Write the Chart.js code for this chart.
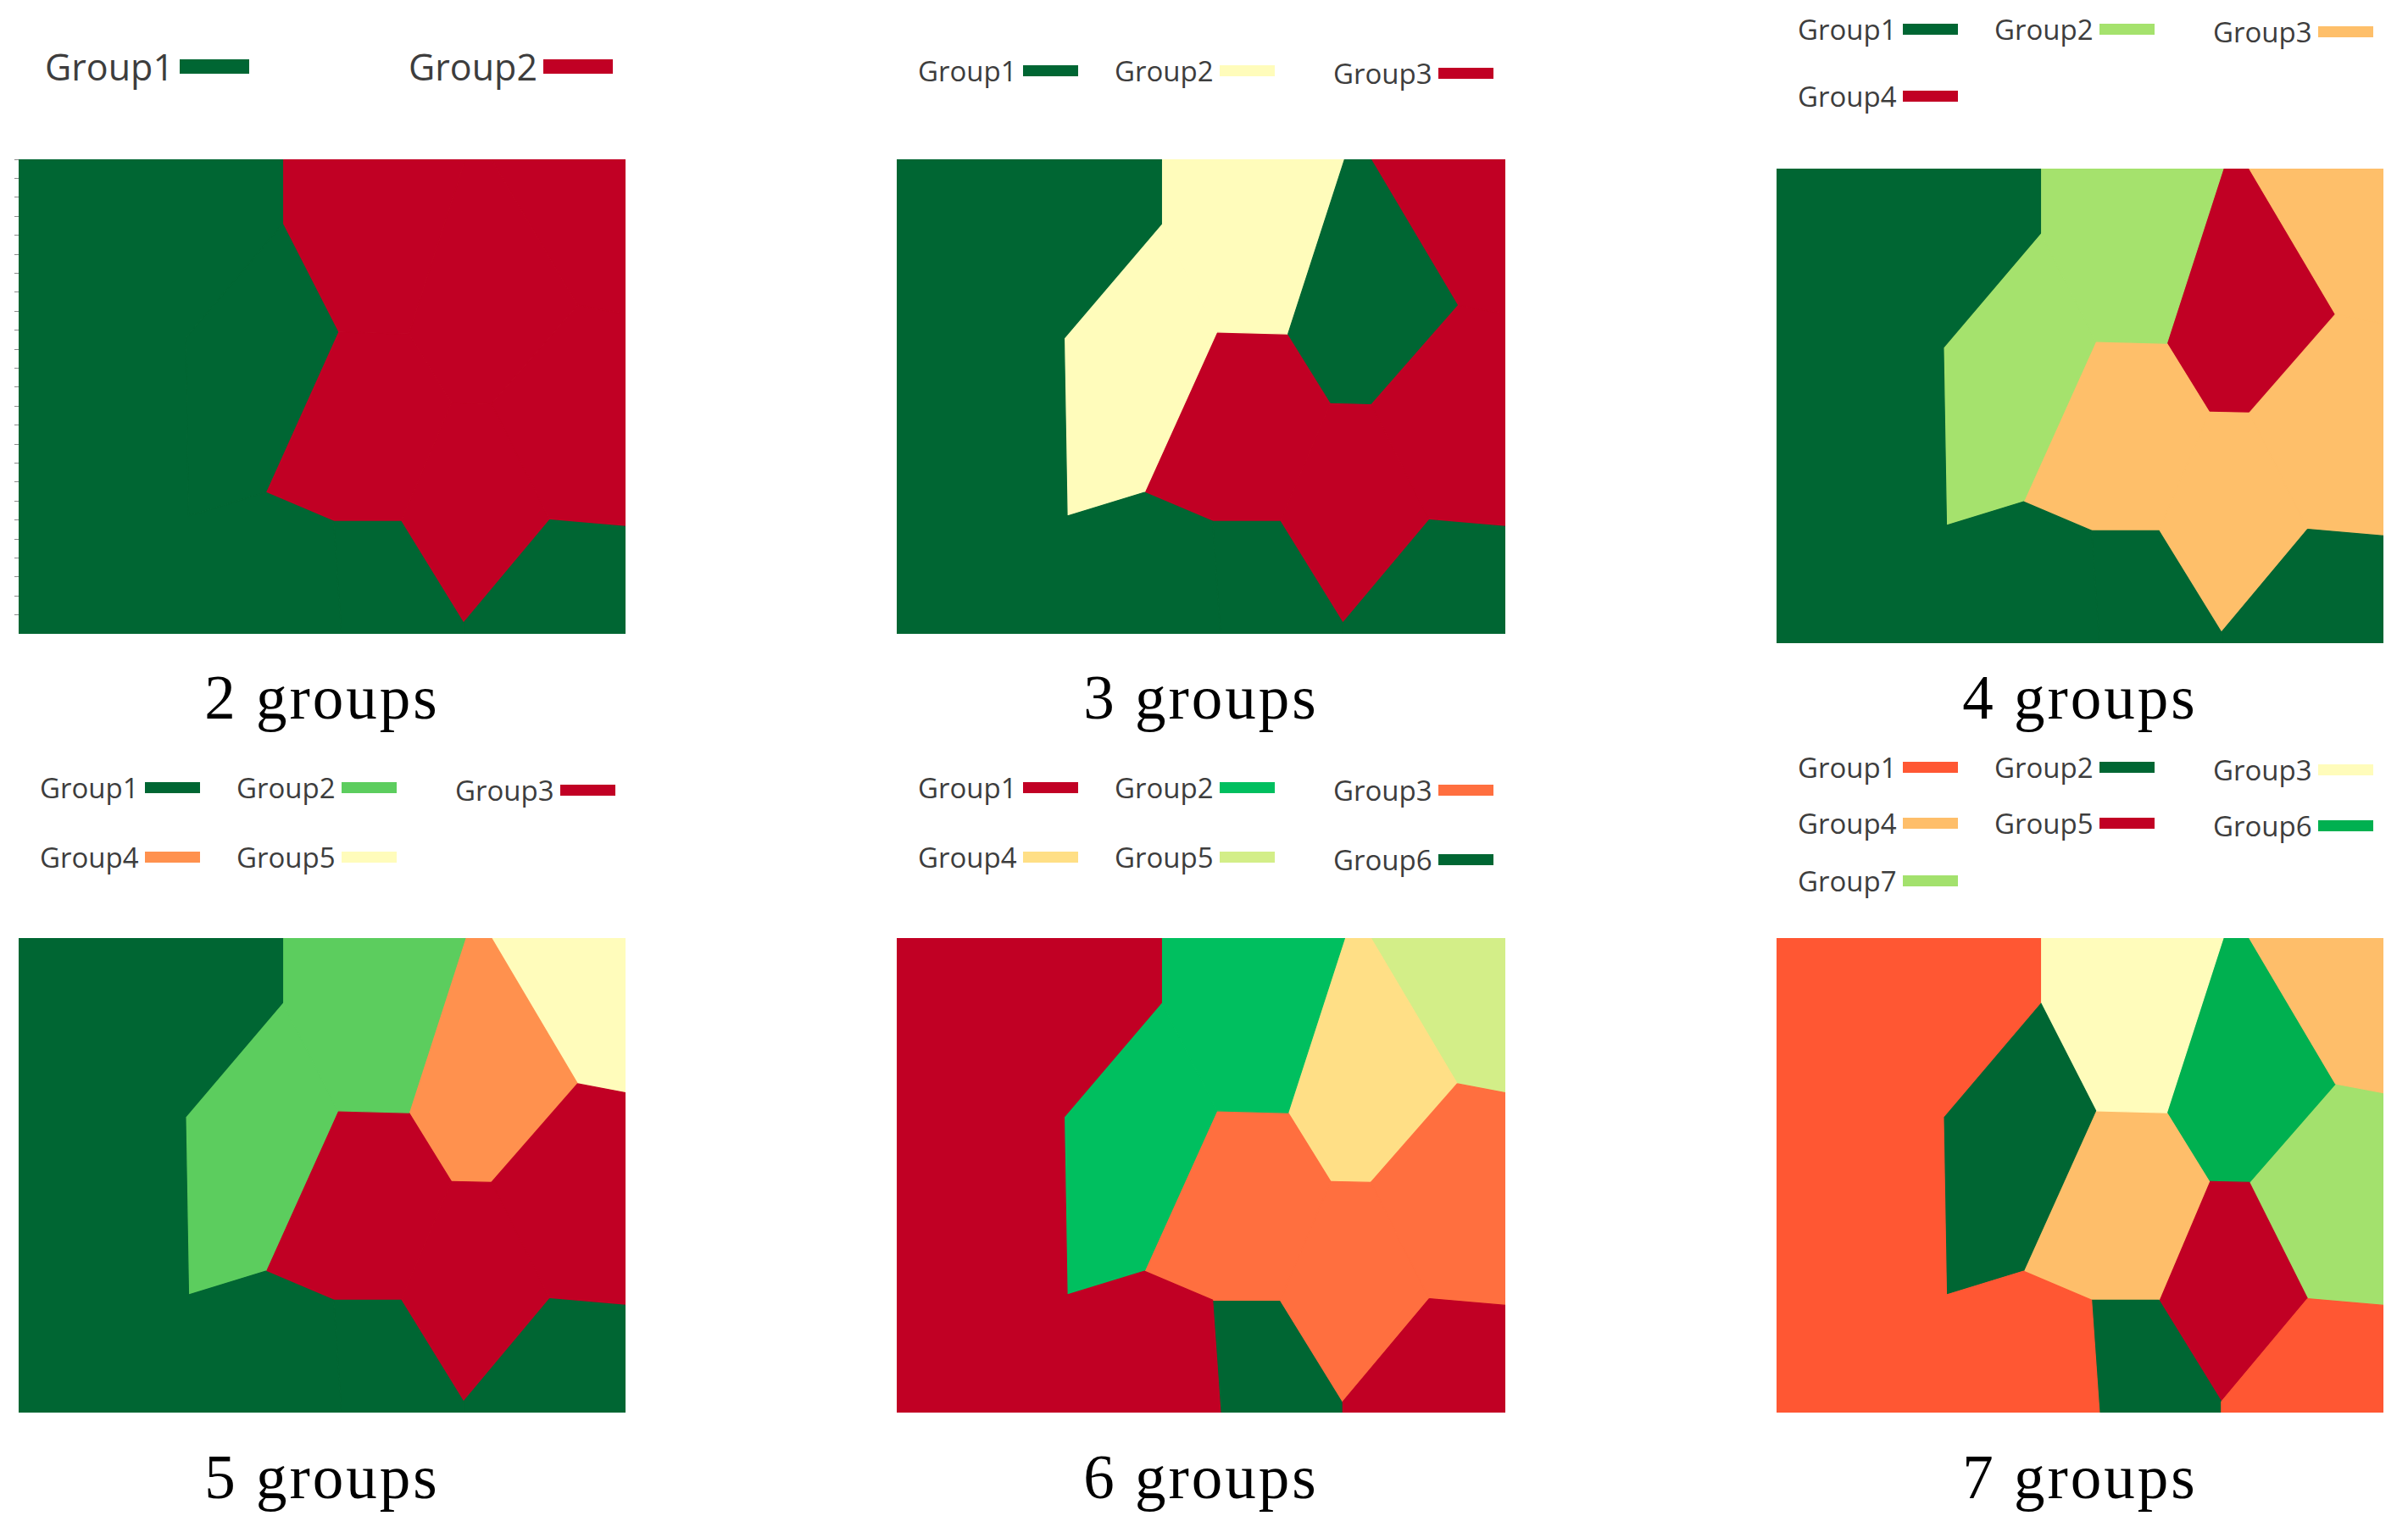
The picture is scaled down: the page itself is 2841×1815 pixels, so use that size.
<!DOCTYPE html>
<html>
<head>
<meta charset="utf-8">
<script src="https://cdn.jsdelivr.net/npm/chart.js@4.4.0/dist/chart.umd.min.js"></script>
<style>
  body { margin: 0; background: #fff; }
  #page { position: relative; width: 2841px; height: 1815px; overflow: hidden; background: #fff; }
  .plot { position: absolute; }
  .legend { position: absolute; left: 0; top: 0; font-family: "Open Sans", sans-serif; color: #3d3d3d; }
  .legend .item { position: absolute; display: flex; align-items: center; line-height: 1; white-space: nowrap; }
  .caption { position: absolute; font-family: "Liberation Serif", serif; font-size: 73px; letter-spacing: 3px; line-height: 1; text-align: center; color: #000; }
</style>
</head>
<body>
<div id="page"></div>
<script>
// cell outlines on a 0-100 grid, y counted from the top edge
const cellLeft = [[0,0],[43.5,0],[43.5,13.6],[27.5,37.7],[28.0,75.2],[40.7,70.2],[51.9,76.3],[53.2,100],[0,100]];
const cellTop = [[43.5,0],[73.6,0],[64.3,36.8],[52.6,36.4],[43.5,13.6]];
const cellInner = [[43.5,13.6],[52.6,36.4],[40.7,70.2],[28.0,75.2],[27.5,37.7]];
const cellCentre = [[52.6,36.4],[64.3,36.8],[71.3,51.3],[63.0,76.3],[51.9,76.3],[40.7,70.2]];
const cellKite = [[73.6,0],[77.9,0],[92.1,30.7],[77.9,51.5],[71.3,51.3],[64.3,36.8]];
const cellCorner = [[77.9,0],[100,0],[100,32.6],[92.1,30.7]];
const cellRight = [[92.1,30.7],[100,32.6],[100,77.4],[87.5,76.0],[77.9,51.5]];
const cellLow = [[71.3,51.3],[77.9,51.5],[87.5,76.0],[73.3,97.7],[63.0,76.3]];
const cellFoot = [[51.9,76.3],[63.0,76.3],[73.3,97.7],[73.3,100],[53.2,100]];
const cellFootRight = [[87.5,76.0],[100,77.4],[100,100],[73.3,100],[73.3,97.7]];
const cells = [cellLeft, cellTop, cellInner, cellCentre, cellKite, cellCorner, cellRight, cellLow, cellFoot, cellFootRight];

// group of each cell (same order as cells) for every panel
const groups2 = [1,2,1,2,2,2,2,2,1,1];
const groups3 = [1,2,2,3,1,3,3,3,1,1];
const groups4 = [1,2,2,3,4,3,3,3,1,1];
const groups5 = [1,2,2,3,4,5,3,3,1,1];
const groups6 = [1,2,2,3,4,5,3,3,6,1];
const groups7 = [1,3,2,4,6,4,7,5,2,1];

const colors2 = ['#006633','#C10024'];
const colors3 = ['#006633','#FFFCBB','#C10024'];
const colors4 = ['#006633','#A5E26D','#FEBF6A','#C10024'];
const colors5 = ['#006633','#5CCD5E','#C10024','#FF914E','#FFFCBB'];
const colors6 = ['#C10024','#00BF5F','#FF6F3F','#FFDF86','#D3EE88','#006633'];
const colors7 = ['#FF5733','#006633','#FFFCBB','#FEBE6A','#C10024','#00B050','#A3E16D'];

const captions = ['2 groups','3 groups','4 groups','5 groups','6 groups','7 groups'];

// layout
const panels = [
  { groups: groups2, colors: colors2, x: 22, y: 188, w: 716, h: 560, ticks: true,
    rows: [80], cols: [31, 460], font: 43, sw: 82, sh: 17, capBase: 848 },
  { groups: groups3, colors: colors3, x: 1058, y: 188, w: 718, h: 560,
    rows: [84], cols: [25, 257, 515], font: 33, sw: 65, sh: 13, capBase: 848 },
  { groups: groups4, colors: colors4, x: 2096, y: 199, w: 716, h: 560,
    rows: [35, 114], cols: [25, 257, 515], font: 33, sw: 65, sh: 13, capBase: 848 },
  { groups: groups5, colors: colors5, x: 22, y: 1107, w: 716, h: 560,
    rows: [930, 1012], cols: [25, 257, 515], font: 33, sw: 65, sh: 13, capBase: 1768 },
  { groups: groups6, colors: colors6, x: 1058, y: 1107, w: 718, h: 560,
    rows: [930, 1012], cols: [25, 257, 515], font: 33, sw: 65, sh: 13, capBase: 1768 },
  { groups: groups7, colors: colors7, x: 2096, y: 1107, w: 716, h: 560,
    rows: [906, 972, 1040], cols: [25, 257, 515], font: 33, sw: 65, sh: 13, capBase: 1768 }
];
const colDrop = [0, 0, 3];

const page = document.getElementById('page');
const TICK = 5;

// legend drawn as html from the chart's own legend items, text before the swatch
const htmlLegend = {
  id: 'htmlLegend',
  afterUpdate(chart, args, opts) {
    const p = opts.panel;
    const box = opts.box;
    box.innerHTML = '';
    const seen = new Set();
    const items = chart.options.plugins.legend.labels.generateLabels(chart)
      .filter(it => !seen.has(it.text) && seen.add(it.text));
    items.forEach((it, i) => {
      const row = Math.floor(i / p.cols.length);
      const col = i % p.cols.length;
      const el = document.createElement('div');
      el.className = 'item';
      el.style.fontSize = p.font + 'px';
      el.style.left = (p.x + p.cols[col]) + 'px';
      el.style.top = (p.rows[row] + (p.cols.length > 2 ? colDrop[col] : 0) - p.font * 0.53) + 'px';
      el.style.height = p.font + 'px';
      const t = document.createElement('span');
      t.textContent = it.text;
      const s = document.createElement('span');
      s.style.display = 'inline-block';
      s.style.width = p.sw + 'px';
      s.style.height = p.sh + 'px';
      s.style.marginLeft = '7px';
      s.style.background = it.fillStyle;
      el.appendChild(t);
      el.appendChild(s);
      box.appendChild(el);
    });
  }
};

panels.forEach((p, k) => {
  const left = p.ticks ? p.x - TICK : p.x;
  const wrap = document.createElement('div');
  wrap.className = 'plot';
  wrap.style.left = left + 'px';
  wrap.style.top = p.y + 'px';
  wrap.style.width = (p.w + p.x - left) + 'px';
  wrap.style.height = p.h + 'px';
  const canvas = document.createElement('canvas');
  wrap.appendChild(canvas);
  page.appendChild(wrap);

  const legendBox = document.createElement('div');
  legendBox.className = 'legend';
  page.appendChild(legendBox);

  const cap = document.createElement('div');
  cap.className = 'caption';
  cap.textContent = captions[k];
  cap.style.left = p.x + 'px';
  cap.style.width = p.w + 'px';
  cap.style.top = (p.capBase - 73 * 0.8375) + 'px';
  page.appendChild(cap);

  const datasets = [];
  p.colors.forEach((col, g) => {
    cells.forEach((cell, i) => {
      if (p.groups[i] !== g + 1) return;
      datasets.push({
        label: 'Group' + (g + 1),
        data: cell.concat([cell[0]]).map(([x, y]) => ({ x, y })),
        showLine: true,
        fill: 'shape',
        backgroundColor: col,
        borderColor: col,
        borderWidth: 1.2,
        pointRadius: 0,
        tension: 0
      });
    });
  });

  new Chart(canvas, {
    type: 'scatter',
    data: { datasets },
    options: {
      responsive: true,
      maintainAspectRatio: false,
      animation: false,
      layout: { padding: 0 },
      plugins: {
        legend: { display: false },
        tooltip: { enabled: false },
        htmlLegend: { panel: p, box: legendBox }
      },
      scales: {
        x: { type: 'linear', min: 0, max: 100, display: false },
        y: {
          type: 'linear', min: 0, max: 100, reverse: true,
          display: !!p.ticks,
          ticks: { display: false, stepSize: 4 },
          grid: { drawOnChartArea: false, tickLength: TICK, color: '#8c8c8c' },
          border: { display: false }
        }
      }
    },
    plugins: [htmlLegend]
  });
});
</script>
</body>
</html>
